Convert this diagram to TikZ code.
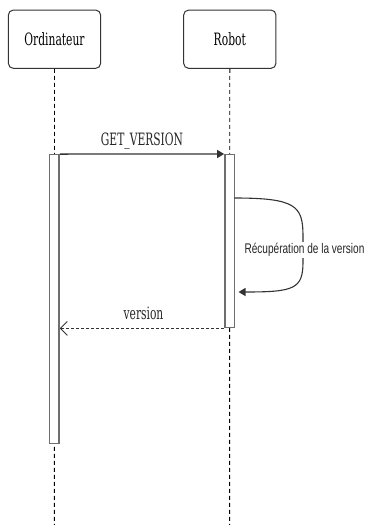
\documentclass[tikz,border=0pt]{standalone}
\usepackage{fontspec}
\usetikzlibrary{arrows.meta,calc}
\newfontfamily\serifc[FakeStretch=0.63]{DejaVu Serif}
\newfontfamily\sansc[FakeStretch=0.72]{Liberation Sans}
\definecolor{edge}{HTML}{333333}
\definecolor{actgray}{HTML}{6E6E6E}
\tikzset{
  actor/.style={draw=edge, line width=1pt, rounded corners=5pt, fill=white,
    minimum width=92.3pt, minimum height=58.3pt, inner sep=0pt,
    font=\serifc\fontsize{17}{20}\selectfont},
  lifeline/.style={draw=black, line width=0.9pt, dash pattern=on 4pt off 3pt},
  activation/.style={draw=actgray, line width=1.4pt, fill=white, inner sep=0pt, minimum width=9.5pt},
  msg/.style={draw=edge, line width=1.4pt, -{Triangle[length=7pt,width=8pt]}},
  selfmsg/.style={draw=edge, line width=1.1pt, -{Triangle[length=7pt,width=8pt]}},
  ret/.style={draw=edge, line width=1pt, dash pattern=on 3pt off 2pt, -{Straight Barb[length=7pt,width=14pt,line width=0.9pt]}},
  seriflabel/.style={inner sep=0pt, font=\serifc\fontsize{17}{20}\selectfont, text=black!85},
  sanslabel/.style={fill=white, inner sep=1pt, font=\sansc\fontsize{14}{16}\selectfont, text=black!85},
}
\begin{document}
\begin{tikzpicture}[x=1pt,y=-1pt]
\useasboundingbox (0,0) rectangle (367,525);
% actors
\node[actor] (ord) at (54.5,39.2) {Ordinateur};
\node[actor] (rob) at (229.8,39.2) {Robot};
% lifeline ends
\coordinate (ordend) at (54.3,525);
\coordinate (robend) at (229.6,525);
\draw[lifeline] (ord.south) -- (ordend);
\draw[lifeline] (rob.south) -- (robend);
% activations
\node[activation, minimum height=288.5pt] (actO) at (54.3,299) {};
\node[activation, minimum height=173pt] (actR) at (229.6,241.2) {};
% GET_VERSION
\draw[msg] (actO.north east) -- (actR.north west);
\node[seriflabel] (lget) at (142,141) {GET\_VERSION};
% self message
\coordinate (s1) at (234.3,198);
\coordinate (s2) at (238.5,292);
\draw[selfmsg] (s1) .. controls (296,198) and (303,206) .. (303,236)
  -- (303,262) .. controls (303,289) and (294,292) .. (s2);
\node[sanslabel] (lself) at (304.5,250) {Récupération de la version};
% return
\draw[ret] (actR.south west) -- (actO.south east |- actR.south west);
\node[seriflabel] (lver) at (143.5,313) {version};
\end{tikzpicture}
\end{document}
